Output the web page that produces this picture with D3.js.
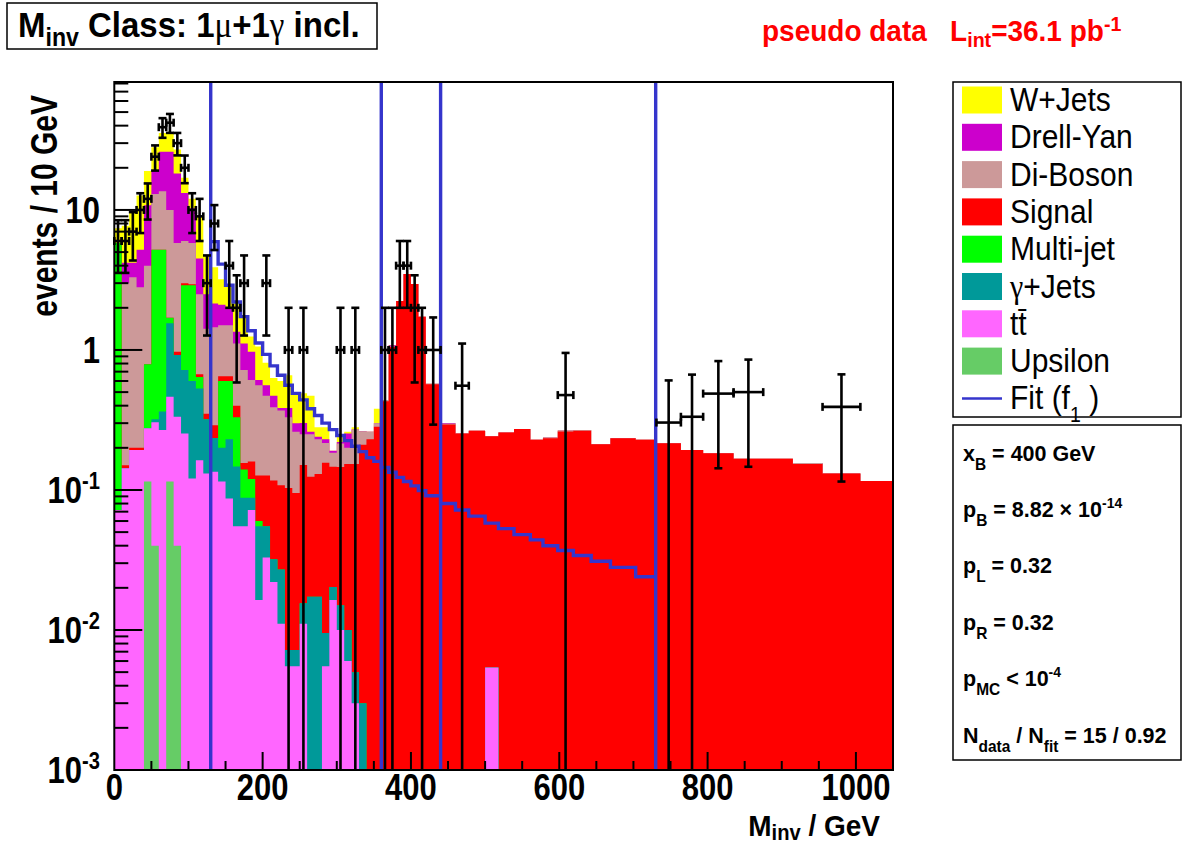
<!DOCTYPE html>
<html><head><meta charset="utf-8">
<script src="https://cdn.jsdelivr.net/npm/d3@7"></script>
<style>body{margin:0;background:#fff} svg{display:block} text{font-family:"Liberation Sans",Arial,Helvetica,sans-serif}</style>
</head><body><svg id="c" width="1185" height="845"></svg>
<script>
// ---------------- data ----------------
const binEdges = [0,10,20,30,40,50,60,70,80,90,100,110,120,130,140,150,160,170,180,190,200,
  210,220,230,240,250,260,270,280,290,300,310,320,330,340,350,360,370,380,390,400,410,420,
  440,460,478,500,518,539,561,578,598,619,643,669,703,731,764,794,835,875,915,955,1006,1050];

const upsilon = [0,0,0,0,0.115,0.04,0,0.115,0.04,0, 0,0,0,0,0,0,0,0,0,0, 0,0,0,0,0,0,0,0,0,0, 0,0,0,0,0,0,0,0,0,0, 0,0,
  0,0,0,0,0,0,0,0,0,0,0,0,0,0,0,0,0,0,0,0,0,0];
const ttbar = [0.072,0.143,0.193,0.193,0.161,0.265,0.268,0.349,0.294,0.253, 0.121,0.163,0.131,0.135,0.115,0.087,0.055,0.055,0.072,0.0164,
  0.033,0.022,0.0111,0.0055,0.0055,0.0111,0,0,0.0055,0.0164, 0.01,0.006,0.003,0,0,0,0,0,0,0, 0,0,
  0,0,0,0,0.0054,0,0,0,0,0,0,0,0,0,0,0,0,0,0,0,0,0];
const gammaJets = [0,0,0,0,0,0.015,0.096,1.086,0.586,0.467, 0.479,0.367,0.189,0.1,0.085,0.143,0.092,0.033,0.016,0.0386,
  0.022,0.01,0.0159,0.0017,0.0017,0.0044,0.0173,0.0173,0.004,0.0039, 0.005,0.004,0.002,0.003,0,0,0,0,0,0, 0,0,
  0,0,0,0,0,0,0,0,0,0,0,0,0,0,0,0,0,0,0,0,0,0];
const multiJet = [5.728,0,0,0,0.514,4.88,4.836,0.15,0,2.18, 2.3,0.11,0,0,0.4,0.37,0.183,0.052,0.032,0.005,
  0,0,0,0,0,0,0,0,0,0, 0,0,0,0,0,0,0,0,0,0, 0,0,
  0,0,0,0,0,0,0,0,0,0,0,0,0,0,0,0,0,0,0,0,0,0];
const signal = [0,0.007,0.007,0.007,0,0,0,0,0.05,0.1, 0.05,0.03,0.03,0.055,0.05,0.05,0.07,0.016,0.04,0.067,
  0.072,0.085,0.081,0.096,0.088,0.135,0.107,0.113,0.147,0.126, 0.131,0.143,0.148,0.207,0.23,0.283,0.43,1.05,2.24,3.49, 2.96,1.73,
  0.569,0.294,0.253,0.265,0.237,0.257,0.273,0.228,0.234,0.262,0.265,0.212,0.234,0.228,0.216,0.193,0.183,0.167,0.167,0.153,0.131,0.116];
const diBoson = [0,2.85,3.1,2.6,3.21,7.8,8.4,8.3,4.83,3.0, 2.85,1.83,1.07,1.16,0.85,0.85,0.71,0.564,0.45,0.433,
  0.343,0.273,0.262,0.227,0.165,0.1,0.126,0.1,0.06,0.038, 0.069,0.047,0.117,0.053,0.03,0.017,0.01,0.01,0,0, 0,0,
  0.004,0.004,0,0,0,0,0,0,0.003,0.004,0.003,0,0,0,0,0,0,0,0,0.003,0,0];
const drellYan = [0,1.2,0.9,2.4,6.8,6,12.4,16,12.4,7.2, 4.5,2.0,1.08,0.7,0.6,0.5,0.24,0.39,0.36,0.05,
  0.09,0.08,0.015,0.055,0.04,0.05,0.01,0.01,0.014,0.006, 0.005,0.053,0,0,0,0,0,0.02,0,0, 0,0,
  0,0.003,0,0,0,0,0,0,0,0,0,0,0,0,0,0,0,0,0,0,0,0];
const wJets = [1.6,3.5,5.6,7.5,8.2,9,9.5,9.5,8.8,3.8, 1.7,4.4,2.2,1.75,1.1,0.9,0.8,0.62,0.28,0.45,
  0.25,0.16,0.215,0.275,0.19,0.19,0.21,0.04,0.05,0, 0.02,0.007,0.01,0,0,0.08,0,0,0,0, 0,0,
  0,0,0,0,0,0,0,0,0,0,0,0,0,0,0,0,0,0,0,0,0,0];
const fitValues = [null,null,null,null,null,null,null,null,null,null, null,null,null,5.94,4.1,2.9,2.2,1.73,1.37,1.12,
  0.93,0.77,0.66,0.56,0.49,0.44,0.38,0.34,0.30,0.27, 0.245,0.225,0.205,0.188,0.17,0.16,0.145,0.134,0.123,0.115, 0.107,0.099,
  0.091,0.08,0.072,0.065,0.058,0.053,0.048,0.044,0.04,0.037,0.034,0.031,0.028,0.024,null,null,null,null,null,null,null,null];
const dataCounts = [6,6,7,10,12,24,39,42,30,20, 10,9,3,8,0,4,2,3,0,0, 3,0,0,1,0,1,0,0,0,0, 1,0,1,0,0,0,1,1,4,4, 2,1,
  2,0,1,0,0,0,0,0,0,1,0,0,0,0,1,1,2,2,0,0,2,0];
const regionLines = [130, 360, 440, 730];
const legendLabels = ["W+Jets","Drell-Yan","Di-Boson","Signal","Multi-jet","\u03b3+Jets","tt\u0304","Upsilon"];
const xTickLabels = ["0","200","400","600","800","1000"];
const yTickValues = [1e-3,1e-2,1e-1,1,10];
const yTickLabels = [["10","-3"],["10","-2"],["10","-1"],["1",""],["10",""]];

// ---------------- layout ----------------
const svg = d3.select("#c");
const X0=114.3, X1=893, Y0=770, Y1=82;
const x = d3.scaleLinear().domain([0,1050]).range([X0,X1]);
const y = d3.scaleLog().domain([1e-3,82]).range([Y0,Y1]).clamp(true);
const yv = v => (v>0 ? y(v) : Y0);
const nb = binEdges.length-1;

const layers = [upsilon, ttbar, gammaJets, multiJet, signal, diBoson, drellYan, wJets];
const colors = ["#66cc66","#ff66ff","#009999","#00ff00","#ff0000","#cc9999","#cc00cc","#ffff00"];
let run = new Array(nb).fill(0);
const cum = layers.map(arr => (run = run.map((r,j)=>r+arr[j])).slice());

function stepPath(vals){
  let d = `M${x(binEdges[0])},${Y0}`;
  for (let j=0;j<nb;j++){ const yy = yv(vals[j]); d += `L${x(binEdges[j])},${yy}L${x(binEdges[j+1])},${yy}`; }
  return d + `L${x(binEdges[nb])},${Y0}Z`;
}
const gHist = svg.append("g");
for (let i=layers.length-1;i>=0;i--){
  gHist.append("path").attr("d",stepPath(cum[i])).attr("fill",colors[i]).attr("stroke","none");
}

// fit step line
const fitCol = "#3535cc";
let fd = "";
for (let j=0;j<nb;j++){
  if (fitValues[j]==null) continue;
  const yy = yv(fitValues[j]);
  fd += (fd==="" || fitValues[j-1]==null) ? `M${x(binEdges[j])},${yy}` : `L${x(binEdges[j])},${yy}`;
  fd += `L${x(binEdges[j+1])},${yy}`;
}
svg.append("path").attr("d",fd).attr("fill","none").attr("stroke",fitCol).attr("stroke-width",3.4);

// region lines
regionLines.forEach(v=>{
  svg.append("line").attr("x1",x(v)).attr("x2",x(v)).attr("y1",Y1).attr("y2",Y0)
    .attr("stroke",fitCol).attr("stroke-width",3.4);
});

// data points
const gData = svg.append("g").attr("stroke","#000").attr("stroke-width",2.6);
for (let j=0;j<nb;j++){
  const n = dataCounts[j]; if (!n) continue;
  const w = binEdges[j+1]-binEdges[j];
  const val = n*10/w, err = Math.sqrt(n)*10/w;
  const xc = x((binEdges[j]+binEdges[j+1])/2), xa = x(binEdges[j]), xb = x(binEdges[j+1]);
  const yc = yv(val), yh = yv(val+err), yl = (val-err)>0 ? yv(val-err) : Y0;
  gData.append("line").attr("x1",xc).attr("x2",xc).attr("y1",yl).attr("y2",yh);
  gData.append("line").attr("x1",xc-4).attr("x2",xc+4).attr("y1",yh).attr("y2",yh);
  if ((val-err)>0) gData.append("line").attr("x1",xc-4).attr("x2",xc+4).attr("y1",yl).attr("y2",yl);
  gData.append("line").attr("x1",xa).attr("x2",xb).attr("y1",yc).attr("y2",yc);
  gData.append("line").attr("x1",xa).attr("x2",xa).attr("y1",yc-4).attr("y2",yc+4);
  gData.append("line").attr("x1",xb).attr("x2",xb).attr("y1",yc-4).attr("y2",yc+4);
}

// frame & ticks
svg.append("rect").attr("x",X0).attr("y",Y1).attr("width",X1-X0).attr("height",Y0-Y1)
  .attr("fill","none").attr("stroke","#000").attr("stroke-width",2);
const gT = svg.append("g").attr("stroke","#000").attr("stroke-width",2);
for (let e=-3;e<=1;e++){
  for (let m=1;m<=9;m++){
    const v = m*Math.pow(10,e); if (v>82) continue;
    const len = m===1 ? 28 : 14;
    gT.append("line").attr("x1",X0).attr("x2",X0+len).attr("y1",y(v)).attr("y2",y(v));
  }
}
for (let v=50; v<1050; v+=50){
  const len = v%200===0 ? 18 : 9;
  gT.append("line").attr("x1",x(v)).attr("x2",x(v)).attr("y1",Y0).attr("y2",Y0-len);
}

function rich(g, px, py, parts, o){
  const t = g.append("text").attr("transform",`translate(${px},${py}) scale(1,${o.sy||1})`)
    .attr("font-size",o.size).attr("font-weight",o.weight||"normal").attr("fill",o.fill||"#000")
    .attr("text-anchor",o.anchor||"start");
  let cur = 0;
  parts.forEach(p=>{
    let off=0, fs=o.size;
    if (p.sub){ off=o.subDy; fs=o.size*(o.subScale||0.7); }
    if (p.sup){ off=-o.supDy; fs=o.size*(o.supScale||0.7); }
    const ts = t.append("tspan").text(p.t).attr("dy",off-cur).attr("font-size",fs);
    if (p.font) ts.attr("font-family",p.font).attr("font-weight","normal");
    cur = off;
  });
  return t;
}

// tick labels
xTickLabels.forEach((s,i)=>{
  rich(svg, x(i*200), 800, [{t:s}], {size:31, weight:"bold", anchor:"middle", sy:1.2});
});
yTickValues.forEach((v,i)=>{
  const lab = yTickLabels[i];
  const parts = [{t:lab[0]}]; if (lab[1]) parts.push({t:lab[1],sup:true});
  rich(svg, 100, y(v)+13, parts, {size:31, weight:"bold", anchor:"end", supDy:12, supScale:0.65, sy:1.2});
});

// axis titles
rich(svg, 880, 836, [{t:"M"},{t:"inv",sub:true},{t:" / GeV"}], {size:28, weight:"bold", anchor:"end", subDy:4, subScale:0.72, sy:1.08});
svg.append("text").attr("transform","translate(57,95) rotate(-90) scale(1,1.2)").attr("text-anchor","end")
  .attr("font-size",30).attr("font-weight","bold").text("events / 10 GeV");

// title box
svg.append("rect").attr("x",7).attr("y",3).attr("width",370).attr("height",46).attr("fill","#fff").attr("stroke","#000").attr("stroke-width",1.5);
rich(svg, 18, 37, [{t:"M"},{t:"inv",sub:true},{t:" Class: 1"},{t:"\u03bc",font:"Liberation Serif"},{t:"+1"},{t:"\u03b3",font:"Liberation Serif"},{t:" incl."}],
  {size:33, weight:"bold", subDy:8, subScale:0.7, sy:1.08});

// lumi text
rich(svg, 762, 41, [{t:"pseudo data\u00a0\u00a0\u00a0L"},{t:"int",sub:true},{t:"=36.1 pb"},{t:"-1",sup:true}],
  {size:28, weight:"bold", fill:"#ff0000", subDy:6, supDy:10, subScale:0.7, supScale:0.7, sy:1.05});

// legend
svg.append("rect").attr("x",953).attr("y",82).attr("width",228).attr("height",335).attr("fill","#fff").attr("stroke","#000").attr("stroke-width",1.5);
const legColors = ["#ffff00","#cc00cc","#cc9999","#ff0000","#00ff00","#009999","#ff66ff","#66cc66"];
legendLabels.forEach((s,i)=>{
  const cy = 100 + i*37.3;
  svg.append("rect").attr("x",962).attr("y",cy-13.5).attr("width",40).attr("height",27).attr("fill",legColors[i]);
  if (s.startsWith("\u03b3")) rich(svg, 1010, cy+11, [{t:"\u03b3",font:"Liberation Serif"},{t:s.slice(1)}], {size:30, sy:1.1});
  else rich(svg, 1010, cy+11, [{t:s}], {size:30, sy:1.1});
});
{
  const cy = 100 + 8*37.3;
  svg.append("line").attr("x1",962).attr("x2",1002).attr("y1",cy).attr("y2",cy).attr("stroke",fitCol).attr("stroke-width",2.5);
  rich(svg, 1010, cy+11, [{t:"Fit (f"},{t:"1",sub:true},{t:" )"}], {size:30, subDy:11, subScale:0.65, sy:1.1});
}

// stats box
svg.append("rect").attr("x",953).attr("y",425).attr("width",228).attr("height",335).attr("fill","#fff").attr("stroke","#000").attr("stroke-width",1.5);
const so = {size:21.5, weight:"bold", subDy:9, supDy:9, subScale:0.72, supScale:0.65, sy:1.05};
rich(svg, 963, 461, [{t:"x"},{t:"B",sub:true},{t:" = 400 GeV"}], so);
rich(svg, 963, 517, [{t:"p"},{t:"B",sub:true},{t:" = 8.82 \u00d7 10"},{t:"-14",sup:true}], so);
rich(svg, 963, 573, [{t:"p"},{t:"L",sub:true},{t:" = 0.32"}], so);
rich(svg, 963, 630, [{t:"p"},{t:"R",sub:true},{t:" = 0.32"}], so);
rich(svg, 963, 686, [{t:"p"},{t:"MC",sub:true},{t:" < 10"},{t:"-4",sup:true}], so);
rich(svg, 963, 743, [{t:"N"},{t:"data",sub:true},{t:" / N"},{t:"fit",sub:true},{t:" = 15 / 0.92"}], so);
</script></body></html>
